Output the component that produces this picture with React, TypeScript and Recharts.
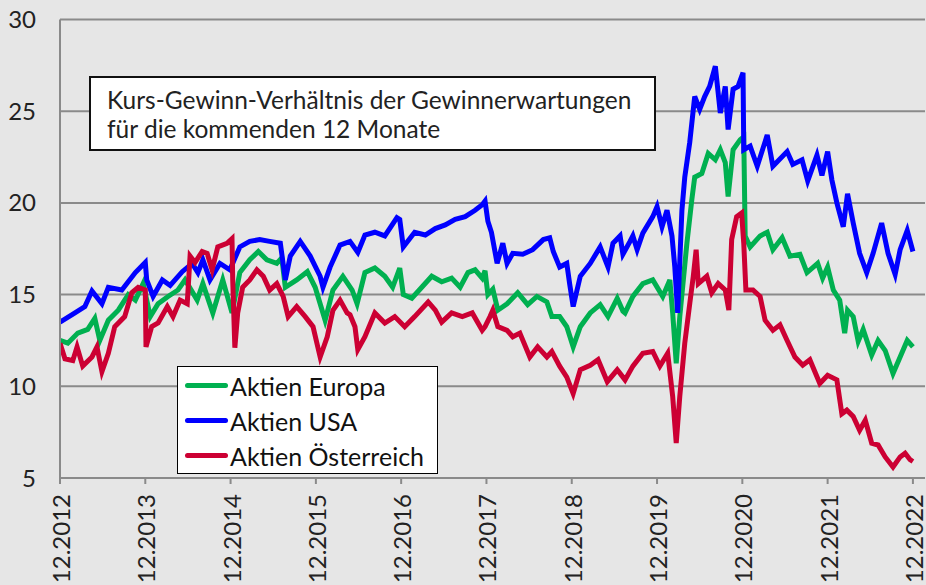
import { LineChart, Line, XAxis, YAxis, CartesianGrid } from "recharts";

// months counted from 12.2012
const europaMonths = [0, 1.1, 2.5, 3.9, 4.9, 5.6, 6.8, 8.2, 9.6, 10.6, 11.7, 12.7, 13.8, 15.2, 16.6, 17.6, 19.3, 20.1, 21.5, 22.9, 24.2, 25.3, 26.7, 27.9, 29.1, 30.5, 31.2, 31.7, 33.3, 34.8, 35.9, 37.3, 38.4, 39.8, 41.1, 41.8, 42.9, 44.3, 45.7, 46.8, 47.8, 48.3, 49.5, 50.9, 52.3, 53.7, 55.1, 56.3, 57.4, 58.4, 59.4, 59.8, 60.2, 60.9, 61.6, 62.9, 64.4, 65.8, 67.1, 68.5, 69.2, 70.3, 71.3, 72.2, 73.2, 74.6, 76.0, 77.1, 78.4, 79.2, 79.5, 80.6, 82.0, 83.4, 84.8, 85.8, 86.2, 86.7, 87.2, 88.2, 88.9, 89.3, 90.3, 91.2, 92.2, 92.9, 93.6, 94.0, 94.7, 95.7, 96.2, 96.4, 97.1, 98.5, 99.5, 100.3, 101.6, 102.7, 104.1, 105.1, 106.6, 107.3, 108.0, 108.8, 109.7, 110.4, 110.8, 111.6, 112.3, 113.0, 114.2, 115.1, 116.1, 117.2, 118.2, 119.2, 120.0];
const europaValues = [12.5, 12.35, 12.9, 13.1, 13.7, 12.5, 13.6, 14.15, 15.0, 14.7, 15.6, 13.8, 14.5, 14.9, 15.25, 15.8, 14.7, 15.6, 14.0, 15.8, 14.0, 16.2, 16.9, 17.35, 16.9, 16.7, 17.0, 15.4, 15.8, 16.25, 15.4, 13.6, 15.25, 16.0, 15.25, 14.5, 16.2, 16.45, 16.0, 15.4, 16.45, 15.0, 14.8, 15.4, 16.0, 15.7, 15.9, 15.4, 16.2, 16.35, 15.9, 16.3, 15.0, 15.3, 14.15, 14.5, 15.1, 14.45, 14.9, 14.6, 13.8, 13.8, 13.25, 12.15, 13.25, 14.0, 14.45, 13.8, 14.8, 14.1, 14.0, 14.9, 15.6, 15.8, 14.9, 15.8, 14.0, 11.25, 13.8, 17.8, 20.2, 21.4, 21.6, 22.7, 22.35, 22.9, 22.2, 20.35, 22.9, 23.45, 23.6, 18.2, 17.6, 18.2, 18.4, 17.45, 18.1, 17.1, 17.2, 16.2, 16.7, 15.9, 16.5, 15.25, 14.7, 12.9, 14.15, 13.8, 12.45, 13.1, 11.7, 12.5, 11.95, 10.7, 11.6, 12.5, 12.15];

const usaMonths = [0, 2.1, 3.5, 4.5, 5.9, 6.8, 8.7, 10.6, 12.0, 12.2, 13.1, 14.4, 15.5, 17.2, 18.6, 19.4, 20.1, 21.1, 22.5, 23.9, 25.3, 26.7, 28.1, 29.5, 31.0, 31.7, 32.4, 33.8, 35.2, 36.6, 37.0, 38.0, 39.4, 40.8, 41.9, 42.9, 44.3, 45.7, 47.4, 47.8, 48.3, 49.9, 51.4, 52.8, 54.2, 55.6, 57.0, 58.4, 59.4, 59.8, 60.2, 60.7, 61.5, 62.3, 62.9, 63.7, 65.1, 66.5, 68.0, 68.9, 69.4, 70.3, 71.3, 71.7, 72.2, 73.2, 74.6, 76.0, 77.1, 77.8, 78.8, 79.2, 80.2, 80.6, 81.2, 82.0, 83.4, 84.0, 84.7, 85.4, 86.1, 86.5, 86.9, 87.5, 87.9, 88.6, 89.3, 90.0, 90.7, 91.4, 92.2, 92.9, 93.6, 94.0, 94.7, 95.4, 96.1, 96.2, 97.1, 98.1, 99.5, 100.3, 102.3, 103.1, 104.4, 105.2, 106.5, 107.2, 108.0, 108.6, 109.3, 110.2, 110.8, 111.6, 112.5, 113.5, 114.4, 115.6, 116.5, 117.5, 118.2, 119.2, 120.0];
const usaValues = [13.5, 14.0, 14.35, 15.2, 14.5, 15.4, 15.25, 16.2, 16.75, 15.8, 14.9, 15.8, 15.5, 16.25, 16.7, 16.2, 16.9, 15.8, 16.7, 16.35, 17.6, 17.9, 18.0, 17.9, 17.8, 15.8, 17.1, 17.9, 17.1, 16.0, 15.4, 16.5, 17.7, 17.9, 17.3, 18.25, 18.4, 18.2, 19.2, 19.1, 17.6, 18.4, 18.25, 18.6, 18.8, 19.1, 19.25, 19.6, 19.9, 20.1, 19.0, 18.4, 16.7, 17.8, 16.7, 17.25, 17.2, 17.45, 18.0, 18.1, 17.35, 16.5, 16.7, 15.6, 14.35, 16.0, 16.7, 17.6, 16.5, 17.8, 18.2, 17.2, 17.9, 18.2, 17.45, 18.35, 19.25, 19.8, 18.7, 19.6, 18.2, 16.5, 14.0, 19.6, 21.4, 23.3, 25.8, 25.1, 25.8, 26.35, 27.45, 24.9, 26.35, 24.0, 26.2, 26.35, 27.1, 22.9, 23.1, 22.0, 23.7, 22.0, 22.8, 22.1, 22.35, 21.2, 22.6, 21.5, 22.8, 21.25, 20.0, 18.7, 20.5, 18.9, 17.25, 16.2, 17.25, 18.9, 17.25, 16.1, 17.45, 18.5, 17.35];

const oesterreichMonths = [0, 0.7, 1.8, 2.4, 3.2, 4.5, 5.2, 5.9, 6.8, 7.7, 9.1, 10.1, 11.0, 12.0, 12.1, 12.9, 13.8, 15.1, 15.9, 16.9, 17.9, 18.3, 19.0, 20.0, 20.7, 21.4, 22.2, 23.5, 24.2, 24.3, 24.6, 25.0, 25.7, 26.7, 27.7, 28.6, 29.5, 30.5, 31.4, 32.1, 33.3, 34.5, 35.6, 36.6, 37.6, 38.4, 39.4, 40.4, 40.8, 41.5, 41.9, 42.9, 44.3, 45.7, 47.1, 48.5, 49.9, 51.8, 52.8, 53.7, 55.1, 56.6, 58.0, 59.4, 59.8, 60.5, 60.9, 61.6, 62.9, 63.7, 64.7, 66.1, 67.2, 68.5, 69.2, 70.3, 71.3, 72.2, 73.2, 74.6, 75.7, 77.0, 78.4, 79.5, 80.6, 82.0, 83.4, 84.4, 85.5, 86.2, 86.7, 87.2, 87.9, 88.6, 89.1, 89.5, 89.8, 91.0, 91.7, 92.6, 93.6, 94.1, 94.5, 95.2, 95.9, 96.2, 96.5, 97.5, 98.5, 99.2, 100.3, 101.3, 102.3, 103.4, 104.5, 105.5, 106.9, 108.0, 109.3, 110.0, 110.7, 111.6, 112.5, 113.3, 114.2, 115.1, 116.1, 117.2, 118.2, 118.9, 119.6, 120.0];
const oesterreichValues = [12.35, 11.5, 11.4, 12.15, 11.1, 11.6, 12.15, 10.8, 11.8, 13.25, 13.8, 15.1, 15.4, 15.25, 12.15, 13.25, 13.45, 14.35, 13.8, 14.7, 14.5, 17.1, 16.75, 17.35, 17.25, 16.35, 17.6, 17.8, 18.05, 15.8, 12.1, 14.0, 15.4, 15.8, 16.35, 16.0, 15.25, 15.6, 14.9, 13.8, 14.35, 13.8, 13.25, 11.6, 12.7, 14.15, 14.7, 14.0, 13.9, 13.25, 12.0, 12.7, 14.0, 13.45, 13.8, 13.25, 13.8, 14.6, 14.15, 13.5, 14.0, 13.8, 14.0, 13.05, 13.25, 13.8, 14.15, 13.25, 13.05, 12.7, 12.9, 11.6, 12.15, 11.6, 11.9, 11.1, 10.5, 9.6, 10.9, 11.15, 11.45, 10.25, 10.9, 10.35, 11.1, 11.8, 11.9, 11.1, 11.8, 9.45, 6.9, 9.45, 12.35, 14.5, 16.0, 17.45, 15.6, 16.0, 15.1, 15.6, 15.25, 14.15, 18.0, 19.25, 19.45, 17.8, 15.25, 15.25, 14.9, 13.6, 13.05, 13.35, 12.5, 11.6, 11.15, 11.45, 10.15, 10.6, 10.35, 8.5, 8.7, 8.35, 7.6, 8.15, 6.9, 6.8, 6.15, 5.6, 6.15, 6.35, 6.0, 5.9];

const xTickLabels = ["12.2012", "12.2013", "12.2014", "12.2015", "12.2016", "12.2017", "12.2018", "12.2019", "12.2020", "12.2021", "12.2022"];
const yTicks = [5, 10, 15, 20, 25, 30];
const seriesNames = ["Aktien Europa", "Aktien USA", "Aktien Österreich"];

const COLORS = ["#00b050", "#0000ff", "#cc0033"];
const BG = "#e6e6e6";
const GRID = "#8a8a8a";
const FONT = "Lato, 'Open Sans', sans-serif";

const toPoints = (months: number[], values: number[]) => months.map((m, i) => ({ m, v: values[i] }));
const europa = toPoints(europaMonths, europaValues);
const usa = toPoints(usaMonths, usaValues);
const oesterreich = toPoints(oesterreichMonths, oesterreichValues);
const xTicks = xTickLabels.map((_, i) => i * 12);

function XTick({ x, y, payload }: any) {
  const label = xTickLabels[Math.round(payload.value / 12)];
  return (
    <g transform={`translate(${x},${y})`}>
      <text transform="rotate(-90)" x={-8} y={10} textAnchor="end" fill="#222" fontSize={24} fontFamily={FONT}>
        {label}
      </text>
    </g>
  );
}

function LegendBox() {
  return (
    <div
      style={{
        position: "absolute",
        left: 177,
        top: 366,
        width: 261,
        height: 108,
        border: "1.5px solid #000",
        background: "#fff",
        boxSizing: "border-box",
        paddingTop: 1,
      }}
    >
      {seriesNames.map((name, i) => (
        <div key={name} style={{ display: "flex", alignItems: "center", height: 35 }}>
          <span style={{ display: "inline-block", width: 43, height: 5, borderRadius: 3, background: COLORS[i], marginLeft: 7, marginRight: 2 }} />
          <span style={{ fontFamily: FONT, fontSize: 25, color: "#111" }}>{name}</span>
        </div>
      ))}
    </div>
  );
}

export default function App() {
  return (
    <div style={{ position: "fixed", left: 0, top: 0, width: 926, height: 585, background: BG }}>
      <LineChart width={926} height={585} margin={{ top: 19.5, right: 1, bottom: 0, left: 0 }}>
        <CartesianGrid vertical={false} stroke={GRID} strokeWidth={2} />
        <XAxis
          type="number"
          dataKey="m"
          domain={[0, 121.7]}
          ticks={xTicks}
          height={107}
          tick={<XTick />}
          tickSize={6}
          tickLine={{ stroke: GRID, strokeWidth: 2 }}
          axisLine={{ stroke: GRID, strokeWidth: 2 }}
          allowDataOverflow
        />
        <YAxis
          type="number"
          domain={[5, 30]}
          ticks={yTicks}
          width={60}
          tickSize={0}
          tickMargin={24}
          tickLine={false}
          axisLine={{ stroke: GRID, strokeWidth: 2 }}
          tick={{ fill: "#222", fontSize: 24, fontFamily: FONT }}
        />
        <Line data={europa} dataKey="v" name={seriesNames[0]} stroke={COLORS[0]} strokeWidth={5} dot={false} isAnimationActive={false} />
        <Line data={usa} dataKey="v" name={seriesNames[1]} stroke={COLORS[1]} strokeWidth={5} dot={false} isAnimationActive={false} />
        <Line data={oesterreich} dataKey="v" name={seriesNames[2]} stroke={COLORS[2]} strokeWidth={5} dot={false} isAnimationActive={false} />
      </LineChart>
      <LegendBox />
      <div
        style={{
          position: "absolute",
          left: 89,
          top: 76,
          width: 567,
          height: 75,
          boxSizing: "border-box",
          border: "2px solid #111",
          background: "#fff",
          padding: "7px 0 0 16px",
          fontFamily: FONT,
          fontSize: 24.5,
          lineHeight: "29px",
          color: "#222",
        }}
      >
        Kurs-Gewinn-Verhältnis der Gewinnerwartungen
        <br />
        für die kommenden 12 Monate
      </div>
    </div>
  );
}
